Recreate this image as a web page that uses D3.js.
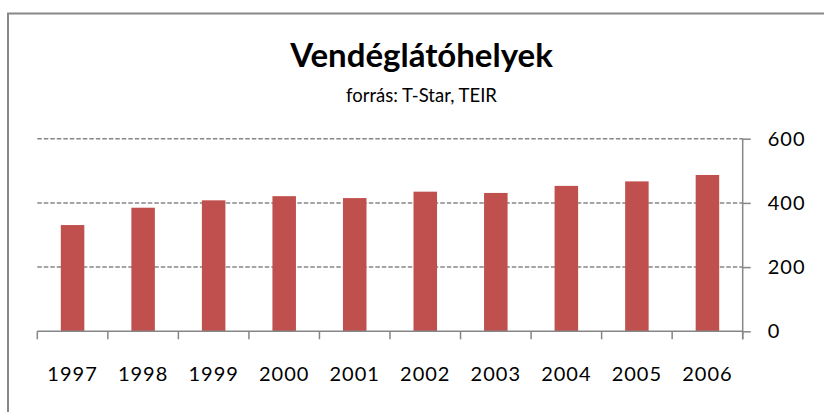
<!DOCTYPE html>
<html>
<head>
<meta charset="utf-8">
<script src="https://cdn.jsdelivr.net/npm/d3@7"></script>
<style>
  body { margin: 0; background: #fff; }
  text { font-family: Lato, "Open Sans", sans-serif; fill: #000; }
</style>
</head>
<body>
<div id="chart"></div>
<script>
const years = ["1997", "1998", "1999", "2000", "2001", "2002", "2003", "2004", "2005", "2006"];
const counts = [331, 385, 408, 421, 415, 435, 431, 453, 467, 487];
const yTicks = [0, 200, 400, 600];

const width = 824;
const height = 412;
const plot = { left: 37.3, right: 742.7, top: 138.7, bottom: 331.3 };
const gridColor = "#868686";

const svg = d3
  .select("#chart")
  .append("svg")
  .attr("width", width)
  .attr("height", height)
  .attr("viewBox", `0 0 ${width} ${height}`);

// outer frame (runs off the right and bottom edges)
svg
  .append("path")
  .attr("d", `M8,${height + 5} L8,13.5 L${width + 5},13.5`)
  .attr("fill", "none")
  .attr("stroke", "#888888")
  .attr("stroke-width", 2);

svg
  .append("text")
  .attr("x", 421.5)
  .attr("y", 67)
  .attr("text-anchor", "middle")
  .attr("font-size", "33px")
  .attr("font-weight", "bold")
  .text("Vendéglátóhelyek");

svg
  .append("text")
  .attr("x", 421.5)
  .attr("y", 102)
  .attr("text-anchor", "middle")
  .attr("font-size", "18.5px")
  .text("forrás: T-Star, TEIR");

const x = d3.scaleBand().domain(years).range([plot.left, plot.right]).paddingInner(2 / 3).paddingOuter(1 / 3);
const xEdges = d3.scaleLinear().domain([0, years.length]).range([plot.left, plot.right]);
const y = d3.scaleLinear().domain([0, 600]).range([plot.bottom, plot.top]);

// dashed gridlines
svg
  .append("g")
  .selectAll("line")
  .data(yTicks.filter((d) => d > 0))
  .join("line")
  .attr("x1", plot.left)
  .attr("x2", plot.right)
  .attr("y1", (d) => y(d))
  .attr("y2", (d) => y(d))
  .attr("stroke", gridColor)
  .attr("stroke-width", 1.5)
  .attr("stroke-dasharray", "4.5,2");

// bars
svg
  .append("g")
  .selectAll("rect")
  .data(years)
  .join("rect")
  .attr("x", (d) => x(d))
  .attr("y", (d, i) => y(counts[i]))
  .attr("width", x.bandwidth())
  .attr("height", (d, i) => y(0) - y(counts[i]))
  .attr("fill", "#C0504D");

// x axis: ticks between categories, labels centred on bars
const xAxis = svg.append("g");
xAxis
  .append("line")
  .attr("x1", plot.left)
  .attr("x2", plot.right)
  .attr("y1", plot.bottom)
  .attr("y2", plot.bottom)
  .attr("stroke", gridColor)
  .attr("stroke-width", 1.5);
xAxis
  .selectAll("line.tick")
  .data(d3.range(years.length + 1))
  .join("line")
  .attr("class", "tick")
  .attr("x1", (d) => xEdges(d))
  .attr("x2", (d) => xEdges(d))
  .attr("y1", plot.bottom)
  .attr("y2", plot.bottom + 8)
  .attr("stroke", gridColor)
  .attr("stroke-width", 1.5);
xAxis
  .selectAll("text")
  .data(years)
  .join("text")
  .attr("x", (d) => x(d) + x.bandwidth() / 2)
  .attr("y", 381.3)
  .attr("text-anchor", "middle")
  .attr("font-size", "20px")
  .attr("letter-spacing", "1px")
  .text((d) => d);

// y axis on the right
const yAxis = svg
  .append("g")
  .attr("transform", `translate(${plot.right},0)`)
  .call(d3.axisRight(y).tickValues(yTicks).tickSize(8).tickPadding(17));
yAxis.selectAll("path, line").attr("stroke", gridColor).attr("stroke-width", 1.5);
yAxis.select(".domain").attr("d", `M0,${plot.top}V${plot.bottom + 8}`);
yAxis
  .selectAll("text")
  .attr("font-family", "Lato, 'Open Sans', sans-serif")
  .attr("font-size", "20px")
  .attr("letter-spacing", "1px")
  .attr("fill", "#000");
</script>
</body>
</html>
